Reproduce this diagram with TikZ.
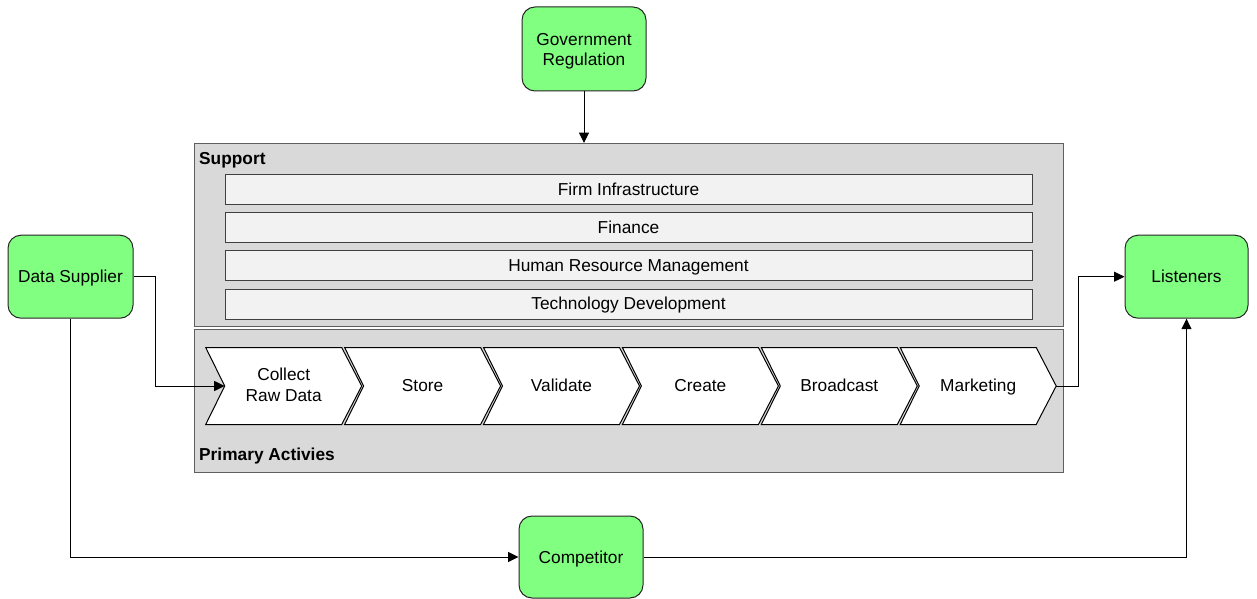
\documentclass[tikz,border=0pt]{standalone}
\usepackage{fontspec}
\setmainfont{Liberation Sans}
\usetikzlibrary{arrows.meta}
\definecolor{boxgreen}{RGB}{128,255,128}
\definecolor{panelgray}{RGB}{217,217,217}
\definecolor{bargray}{RGB}{242,242,242}
\definecolor{edgegray}{RGB}{95,95,95}
\tikzset{
  every node/.style={font=\fontsize{17.3}{20.7}\selectfont, align=center},
  actor/.style={draw=black!85, line width=1pt, fill=boxgreen, rounded corners=13pt, inner sep=0pt},
  panel/.style={draw=edgegray, line width=1.2pt, fill=panelgray, anchor=north west, inner sep=0pt, minimum width=869pt},
  bar/.style={draw=black!75, line width=1pt, fill=bargray, minimum width=807pt, minimum height=30pt, inner sep=0pt},
  bartext/.style={anchor=base, inner sep=0pt},
  chev/.style={draw=black, line width=1pt, fill=white},
  conn/.style={draw=black, line width=1pt},
  arr/.style={conn, -{Triangle[length=10.5pt,width=10pt]}},
  lbl/.style={font=\fontsize{17.3}{20.7}\selectfont\bfseries, anchor=base west, inner sep=0pt}
}
\begin{document}
\begin{tikzpicture}[x=1pt,y=-1pt]
\useasboundingbox (0,0) rectangle (1257,599);
% panels
\node[panel, minimum height=183pt] (support) at (194,143) {};
\node[panel, minimum height=142.5pt] (primary) at (194,329) {};
\node[lbl] (supportlbl) at (199,164) {Support};
\node[lbl] (primarylbl) at (199,460.7) {Primary Activies};
% support bars
\node[bar] (b1) at (628.5,189.3) {};
\node[bar] (b2) at (628.5,227.7) {};
\node[bar] (b3) at (628.5,265) {};
\node[bar] (b4) at (628.5,304.3) {};
\node[bartext] (t1) at (628.5,195.5) {Firm Infrastructure};
\node[bartext] (t2) at (628.5,233.5) {Finance};
\node[bartext] (t3) at (628.5,271) {Human Resource Management};
\node[bartext] (t4) at (628.5,309.5) {Technology Development};
% chevrons
\foreach \k/\t in {1/Store,2/Validate,3/Create,4/Broadcast,5/Marketing}{
  \pgfmathsetmacro{\xo}{205.7+138.9*\k}
  \draw[chev] (\xo,347.5) -- (\xo+136,347.5) -- (\xo+156,386) -- (\xo+136,424.5) -- (\xo,424.5) -- (\xo+19,386) -- cycle;
  \node[anchor=base, inner sep=0pt] (c\k) at (\xo+78,391.7) {\t};
}
\draw[chev] (205.7,347.5) -- (341.7,347.5) -- (361.7,386) -- (341.7,424.5) -- (205.7,424.5) -- (224.7,386) -- cycle;
\node[anchor=base, inner sep=0pt] (c0a) at (283.7,380.5) {Collect};
\node[anchor=base, inner sep=0pt] (c0b) at (283.7,401.7) {Raw Data};
\coordinate (notch) at (224.7,386);
\coordinate (tip) at (1056.2,386);
% actors
\node[actor, minimum width=124pt, minimum height=84pt] (gov) at (584,49) {};
\node[anchor=base, inner sep=0pt] (gov1) at (584,45.5) {Government};
\node[anchor=base, inner sep=0pt] (gov2) at (584,66) {Regulation};
\node[actor, minimum width=125pt, minimum height=83pt] (ds) at (70.5,276.7) {};
\node[anchor=base, inner sep=0pt] (dst) at (70.5,282.5) {Data Supplier};
\node[actor, minimum width=123pt, minimum height=83pt] (lis) at (1186.5,276.7) {};
\node[anchor=base, inner sep=0pt] (list) at (1186.5,282.5) {Listeners};
\node[actor, minimum width=124pt, minimum height=82pt] (comp) at (581,557) {};
\node[anchor=base, inner sep=0pt] (compt) at (581,563) {Competitor};
% connectors
\draw[arr] (gov.south) -- (gov.south |- support.north);
\draw[arr] (ds.east) -- ([xshift=22pt]ds.east) |- (notch);
\draw[arr] (ds.south) |- (comp.west);
\draw[arr] (comp.east) -| (lis.south);
\draw[arr] (tip) -- ([xshift=22pt]tip) |- (lis.west);
\end{tikzpicture}
\end{document}
